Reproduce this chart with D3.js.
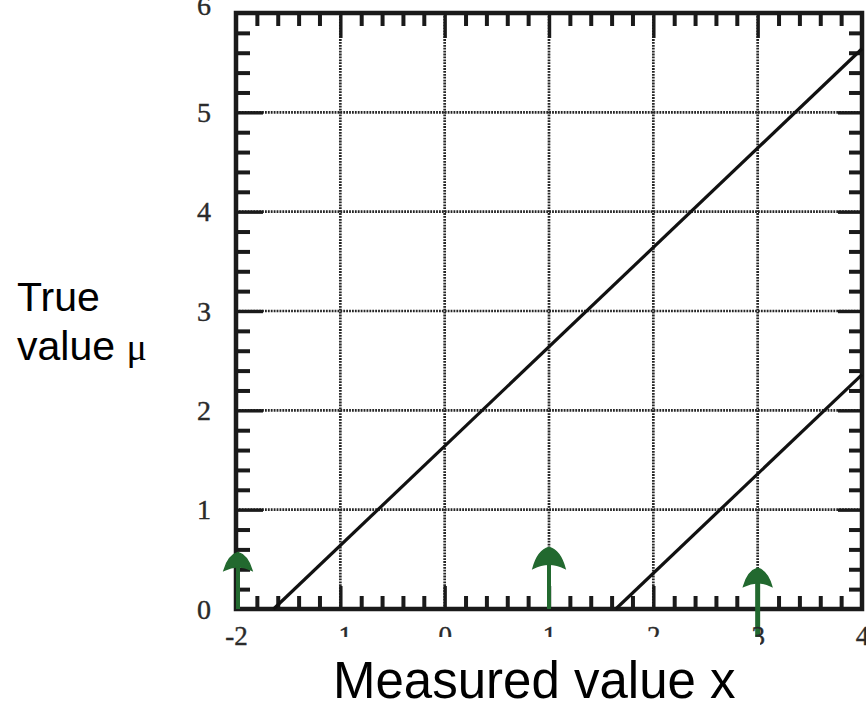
<!DOCTYPE html>
<html><head><meta charset="utf-8">
<script src="https://cdn.jsdelivr.net/npm/d3@7"></script>
<style>body{margin:0;background:#fff} svg{display:block}</style>
</head><body>
<svg id="c" width="866" height="702"></svg>
<script>
// ---- data ----
const xTicks = [-2, -1, 0, 1, 2, 3, 4];
const yTicks = [0, 1, 2, 3, 4, 5, 6];
const upperBelt = [[-1.64, 0], [4, 5.64]];
const lowerBelt = [[1.64, 0], [4, 2.36]];
const arrowX = [-2, 1, 3];
const arrowBase = [0, 0, -0.3];
const arrowTip = [0.57, 0.62, 0.41];
const xTitle = "Measured value x";
const yTitle1 = "True";
const yTitle2 = "value ";
const yTitleSym = "μ";

// ---- layout ----
const svg = d3.select("#c");
const x = d3.scaleLinear().domain([-2, 4]).range([236, 862]);
const y = d3.scaleLinear().domain([0, 6]).range([609, 13]);
const ink = "#1a1a1a";
const green = "#22692f";

const minorX = d3.range(-2, 4.0001, 0.2).map(v => +v.toFixed(1)).filter(v => Math.abs(v - Math.round(v)) > 1e-6);
const minorY = d3.range(0, 6.0001, 0.2).map(v => +v.toFixed(1)).filter(v => Math.abs(v - Math.round(v)) > 1e-6);
const innerX = xTicks.slice(1, -1);
const innerY = yTicks.slice(1, -1);

// dotted grid
const grid = svg.append("g").attr("stroke", "#262626").attr("stroke-width", 2.7).attr("stroke-dasharray", "1.8,1.1");
grid.selectAll("line.gx").data(innerX).join("line")
  .attr("x1", d => x(d)).attr("x2", d => x(d)).attr("y1", y(6)).attr("y2", y(0));
grid.selectAll("line.gy").data(innerY).join("line")
  .attr("y1", d => y(d)).attr("y2", d => y(d)).attr("x1", x(-2)).attr("x2", x(4));

function styleAxis(g, w) {
  g.select(".domain").remove();
  g.selectAll(".tick line").attr("stroke", ink).attr("stroke-width", w);
}
// minor ticks (inward)
svg.append("g").attr("transform", `translate(0,${y(0)})`)
  .call(d3.axisBottom(x).tickValues(minorX).tickSize(-13).tickFormat(""))
  .call(g => styleAxis(g, 4));
svg.append("g").attr("transform", `translate(0,${y(6)})`)
  .call(d3.axisTop(x).tickValues(minorX).tickSize(-13).tickFormat(""))
  .call(g => styleAxis(g, 4));
svg.append("g").attr("transform", `translate(${x(-2)},0)`)
  .call(d3.axisLeft(y).tickValues(minorY).tickSize(-14).tickFormat(""))
  .call(g => styleAxis(g, 4));
svg.append("g").attr("transform", `translate(${x(4)},0)`)
  .call(d3.axisRight(y).tickValues(minorY).tickSize(-13).tickFormat(""))
  .call(g => styleAxis(g, 4));
// major ticks (inward, longer, solid)
svg.append("g").attr("transform", `translate(0,${y(0)})`)
  .call(d3.axisBottom(x).tickValues(innerX).tickSize(-23).tickFormat(""))
  .call(g => styleAxis(g, 3.4));
svg.append("g").attr("transform", `translate(0,${y(6)})`)
  .call(d3.axisTop(x).tickValues(innerX).tickSize(-25).tickFormat(""))
  .call(g => styleAxis(g, 3.4));
svg.append("g").attr("transform", `translate(${x(-2)},0)`)
  .call(d3.axisLeft(y).tickValues(innerY).tickSize(-27).tickFormat(""))
  .call(g => styleAxis(g, 3.4));
svg.append("g").attr("transform", `translate(${x(4)},0)`)
  .call(d3.axisRight(y).tickValues(innerY).tickSize(-24).tickFormat(""))
  .call(g => styleAxis(g, 3.4));

// frame
svg.append("rect").attr("x", x(-2)).attr("y", y(6))
  .attr("width", x(4) - x(-2)).attr("height", y(0) - y(6))
  .attr("fill", "none").attr("stroke", ink).attr("stroke-width", 4.5);

// belt lines
const line = d3.line().x(d => x(d[0])).y(d => y(d[1]));
[upperBelt, lowerBelt].forEach(b => {
  svg.append("path").datum(b).attr("d", line)
    .attr("fill", "none").attr("stroke", "#111").attr("stroke-width", 3.2);
});

// green arrows
const arrows = arrowX.map((v, i) => ({ x: v, b: arrowBase[i], t: arrowTip[i] }));
const ag = svg.append("g");
arrows.forEach((a, i) => {
  const cx = x(a.x) + (i === 0 ? 2 : 0), ty = y(a.t), by = y(a.b);
  ag.append("line").attr("x1", cx).attr("x2", cx).attr("y1", ty + 8).attr("y2", by)
    .attr("stroke", green).attr("stroke-width", i === 2 ? 5 : 4);
  const hw = i === 1 ? 16 : 14, hh = i === 1 ? 21 : 18;
  ag.append("path")
    .attr("d", `M${cx - hw},${ty + hh} Q${cx - hw * 0.7},${ty + 3} ${cx},${ty} Q${cx + hw * 0.7},${ty + 3} ${cx + hw},${ty + hh} Q${cx},${ty + hh * 0.6} ${cx - hw},${ty + hh} Z`)
    .attr("fill", green).attr("stroke", green).attr("stroke-width", 1.5);
});

// tick labels
const labelFont = "'Liberation Serif', 'Times New Roman', serif";
const yl = svg.append("g").attr("transform", `translate(${x(-2)},0)`)
  .call(d3.axisLeft(y).tickValues(yTicks).tickSize(0).tickFormat(d3.format("d")));
yl.select(".domain").remove();
yl.selectAll("text").attr("x", -32).attr("text-anchor", "middle")
  .attr("font-family", labelFont).attr("font-size", 28).attr("fill", "#2a2a2a")
  .attr("stroke", "#2a2a2a").attr("stroke-width", 0.4)
  .attr("dy", d => d === 6 ? "0.05em" : "0.33em");
const xl = svg.append("g").attr("transform", `translate(0,${y(0)})`)
  .call(d3.axisBottom(x).tickValues(xTicks).tickSize(0).tickFormat(d3.format("d")));
xl.select(".domain").remove();
xl.selectAll("text").attr("y", 17).attr("dy", "0.71em")
  .attr("font-family", labelFont).attr("font-size", 27).attr("fill", "#2a2a2a")
  .attr("stroke", "#2a2a2a").attr("stroke-width", 0.4);
xl.selectAll("text").text(d => d < 0 ? "-" + Math.abs(d) : d);

// title boxes
svg.append("rect").attr("x", 310).attr("y", 637).attr("width", 450).attr("height", 65).attr("fill", "#fff");
const sans = "'Liberation Sans', Arial, sans-serif";
svg.append("text").attr("x", 333).attr("y", 698)
  .attr("font-family", sans).attr("font-size", 51).attr("fill", "#000")
  .text(xTitle);
svg.append("text").attr("x", 17).attr("y", 311).attr("font-family", sans).attr("font-size", 41).text(yTitle1);
const t2 = svg.append("text").attr("x", 17).attr("y", 360).attr("font-family", sans).attr("font-size", 41);
t2.append("tspan").text(yTitle2);
t2.append("tspan").attr("font-family", "'Liberation Serif', serif").attr("font-size", 38).text(yTitleSym);
</script>
</body></html>
